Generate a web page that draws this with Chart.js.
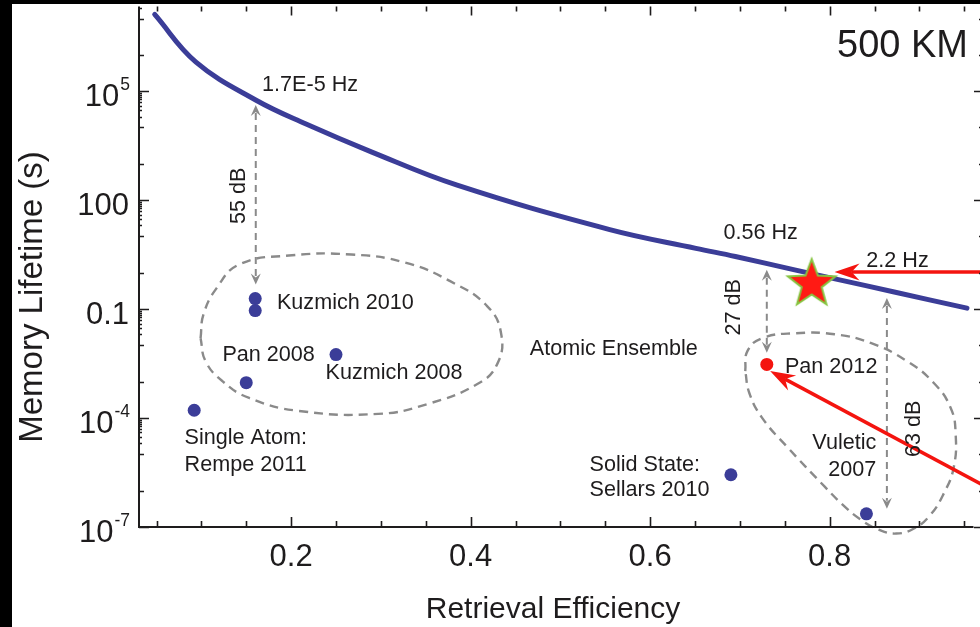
<!DOCTYPE html>
<html>
<head>
<meta charset="utf-8">
<script src="https://cdn.jsdelivr.net/npm/chart.js@4.4.1/dist/chart.umd.min.js"></script>
<style>
  html, body { margin: 0; padding: 0; background: #000; }
</style>
</head>
<body>
<canvas id="c" width="980" height="627"></canvas>
<script>
// 500 km curve (retrieval efficiency vs memory lifetime)
const curveX = [0.048, 0.094, 0.161, 0.216, 0.290, 0.385, 0.555, 0.651, 0.695, 0.761, 0.806, 0.872, 0.953];
const curveY = [1.29e7, 6.3e5, 5.6e4, 1.26e4, 2.1e3, 257, 15.4, 4.7, 2.8, 1.2, 0.68, 0.295, 0.106];

// experiments (blue dots)
const expNames = ["Rempe 2011", "Pan 2008", "Kuzmich 2010", "Kuzmich 2010", "Kuzmich 2008", "Sellars 2010", "Vuletic 2007"];
const expEff = [0.092, 0.150, 0.160, 0.160, 0.250, 0.690, 0.841];
const expLife = [1.64e-4, 9.4e-4, 0.194, 0.091, 5.6e-3, 2.75e-6, 2.3e-7];

// Pan 2012 (red dot) and the star
const panEff = [0.730];
const panLife = [3.0e-3];
const starEff = [0.780];
const starLife = [0.49];

// dashed groups
const blob1X = [0.0991, 0.1024, 0.1168, 0.1422, 0.1975, 0.2671, 0.3268, 0.3777, 0.4186, 0.4341, 0.4296, 0.4075, 0.3522, 0.2970, 0.2085, 0.1532, 0.1234, 0.1046, 0.0991];
const blob1Y = [0.0158, 0.0718, 0.371, 1.69, 2.98, 3.18, 1.91, 0.577, 0.119, 0.0203, 3.05e-3, 8.63e-4, 2.44e-4, 1.30e-4, 1.57e-4, 3.57e-4, 1.04e-3, 3.69e-3, 0.0158];
const blob2X = [0.706, 0.7084, 0.7248, 0.7613, 0.8055, 0.8464, 0.8862, 0.9161, 0.9349, 0.9404, 0.9382, 0.9271, 0.9117, 0.8940, 0.8741, 0.8542, 0.8343, 0.8144, 0.7945, 0.7536, 0.7248, 0.7105, 0.706];
const blob2Y = [1.96e-3, 6.95e-3, 0.0158, 0.0216, 0.0203, 0.0115, 3.69e-3, 9.2e-4, 1.90e-4, 3.67e-5, 4.30e-6, 8.3e-7, 2.07e-7, 9.1e-8, 6.6e-8, 8.55e-8, 1.61e-7, 4.15e-7, 1.29e-6, 1.52e-5, 1.01e-4, 4.9e-4, 1.96e-3];

// axes
const xTickValues = [0.2, 0.4, 0.6, 0.8];
const xTickLabels = ["0.2", "0.4", "0.6", "0.8"];
const yTickValues = [1e-7, 1e-4, 0.1, 100, 1e5];
const yTickLabels = [["10", "-7"], ["10", "-4"], ["0.1", ""], ["100", ""], ["10", "5"]];
const yMajorExp = [-7, -4, -1, 2, 5, 8];

// arrows: dB gaps (grey dashed) and red arrows
const dbArrowX = [0.1606, 0.730, 0.8638];
const dbArrowTop = [4.13e4, 1.21, 0.201];
const dbArrowBottom = [0.477, 6.24e-3, 3.16e-7];
const redArrows = [
	{ from: [0.99, 1.05], to: [0.8055, 1.05] },
	{ from: [0.99, 8e-7], to: [0.7337, 1.96e-3] }
];

// text notes
const notes = [
	{ t: "1.7E-5 Hz", x: 0.1676, y: 1e5 },
	{ t: "55 dB", x: 0.1422, y: 132, rot: true },
	{ t: "Kuzmich 2010", x: 0.1842, y: 0.0984 },
	{ t: "Pan 2008", x: 0.1234, y: 3.69e-3 },
	{ t: "Kuzmich 2008", x: 0.2384, y: 1.19e-3 },
	{ t: "Atomic Ensemble", x: 0.466, y: 5.4e-3 },
	{ t: "Single Atom:", x: 0.0813, y: 1.95e-5 },
	{ t: "Rempe 2011", x: 0.0813, y: 3.55e-6 },
	{ t: "Solid State:", x: 0.5325, y: 3.55e-6 },
	{ t: "Sellars 2010", x: 0.5325, y: 7.3e-7 },
	{ t: "Vuletic", x: 0.852, y: 1.43e-5, align: "right" },
	{ t: "2007", x: 0.852, y: 2.59e-6, align: "right" },
	{ t: "Pan 2012", x: 0.7502, y: 1.73e-3 },
	{ t: "0.56 Hz", x: 0.6817, y: 8.73 },
	{ t: "2.2 Hz", x: 0.8409, y: 1.40 },
	{ t: "27 dB", x: 0.6939, y: 0.112, rot: true },
	{ t: "63 dB", x: 0.894, y: 5.04e-5, rot: true }
];

const FONT = '"Liberation Sans", Arial, sans-serif';
const INK = "#1e1c1d";
const BLUE = "#3b3d98";
const RED = "#f4140f";
const GREY = "#8a8a8a";

function pts(xs, ys) {
	return xs.map((x, i) => ({ x: x, y: ys[i] }));
}

// filled star used as point style
function makeStar(R, r) {
	const c = document.createElement("canvas");
	const s = Math.ceil(R * 2 + 6);
	c.width = s;
	c.height = s;
	const g = c.getContext("2d");
	g.translate(s / 2, s / 2);
	g.beginPath();
	for (let i = 0; i < 10; i++) {
		const rad = i % 2 ? r : R;
		const a = -Math.PI / 2 + (i * Math.PI) / 5;
		g.lineTo(rad * Math.cos(a), rad * Math.sin(a));
	}
	g.closePath();
	g.fillStyle = "#ff1a14";
	g.fill();
	g.lineWidth = 2;
	g.strokeStyle = "#86c440";
	g.stroke();
	return c;
}

function arrowHead(ctx, x1, y1, x2, y2, len, half, notch) {
	const a = Math.atan2(y2 - y1, x2 - x1);
	ctx.save();
	ctx.translate(x2, y2);
	ctx.rotate(a);
	ctx.beginPath();
	ctx.moveTo(0, 0);
	ctx.lineTo(-len, -half);
	ctx.lineTo(-notch, 0);
	ctx.lineTo(-len, half);
	ctx.closePath();
	ctx.fill();
	ctx.restore();
}

const decor = {
	id: "decor",
	beforeDraw(chart) {
		const ctx = chart.ctx;
		ctx.save();
		ctx.fillStyle = "#fff";
		ctx.fillRect(0, 0, chart.width, chart.height);
		ctx.fillStyle = "#000";
		ctx.fillRect(0, 0, 12, chart.height);
		ctx.fillRect(0, 0, chart.width, 4);
		ctx.restore();
	},
	afterDraw(chart) {
		const ctx = chart.ctx;
		const xs = chart.scales.x;
		const ys = chart.scales.y;
		const a = chart.chartArea;
		const px = (v) => xs.getPixelForValue(v);
		const py = (v) => ys.getPixelForValue(v);
		ctx.save();

		// grey dashed dB arrows
		ctx.strokeStyle = GREY;
		ctx.fillStyle = GREY;
		ctx.lineWidth = 2;
		dbArrowX.forEach((x, i) => {
			const X = px(x);
			const t = py(dbArrowTop[i]);
			const b = py(dbArrowBottom[i]);
			ctx.setLineDash([7, 5]);
			ctx.beginPath();
			ctx.moveTo(X, t + 8);
			ctx.lineTo(X, b - 8);
			ctx.stroke();
			ctx.setLineDash([]);
			arrowHead(ctx, X, b, X, t, 11, 5, 7);
			arrowHead(ctx, X, t, X, b, 11, 5, 7);
		});

		// red arrows
		ctx.strokeStyle = RED;
		ctx.fillStyle = RED;
		ctx.lineWidth = 3.5;
		redArrows.forEach((r) => {
			const x1 = px(r.from[0]), y1 = py(r.from[1]);
			const x2 = px(r.to[0]), y2 = py(r.to[1]);
			const ang = Math.atan2(y2 - y1, x2 - x1);
			ctx.beginPath();
			ctx.moveTo(x1, y1);
			ctx.lineTo(x2 - 17 * Math.cos(ang), y2 - 17 * Math.sin(ang));
			ctx.stroke();
			arrowHead(ctx, x1, y1, x2, y2, 25, 8.5, 17);
		});

		// notes
		ctx.fillStyle = INK;
		ctx.font = "21.6px " + FONT;
		notes.forEach((n) => {
			const X = px(n.x), Y = py(n.y);
			if (n.rot) {
				ctx.save();
				ctx.translate(X, Y);
				ctx.rotate(-Math.PI / 2);
				ctx.textAlign = "center";
				ctx.textBaseline = "middle";
				ctx.fillText(n.t, 0, 0);
				ctx.restore();
			} else {
				ctx.textAlign = n.align || "left";
				ctx.textBaseline = "alphabetic";
				ctx.fillText(n.t, X, Y);
			}
		});
		ctx.font = "38px " + FONT;
		ctx.textAlign = "left";
		ctx.fillText("500 KM", 837, 57);

		// axis frame
		ctx.strokeStyle = INK;
		ctx.lineWidth = 2;
		ctx.beginPath();
		ctx.moveTo(a.left, a.top);
		ctx.lineTo(a.left, a.bottom);
		ctx.lineTo(a.right, a.bottom);
		ctx.stroke();

		// x ticks (bottom and top, inward)
		ctx.lineWidth = 1.6;
		ctx.beginPath();
		for (let v = 0.05; v < xs.max; v += 0.05) {
			const X = Math.round(px(v)) + 0.5;
			const major = xTickValues.some((m) => Math.abs(m - v) < 1e-6);
			const len = major ? 10 : 6;
			ctx.moveTo(X, a.bottom);
			ctx.lineTo(X, a.bottom - len);
			ctx.moveTo(X, a.top);
			ctx.lineTo(X, a.top + len - 1);
		}
		ctx.stroke();

		// y ticks (left and right, inward)
		const rightX = 984;
		ctx.beginPath();
		yMajorExp.forEach((e) => {
			const ticks = [[Math.pow(10, e), 10], [Math.pow(10, e - 1), 5], [Math.pow(10, e - 2), 5]];
			for (let k = 2; k <= 9; k++) ticks.push([k * Math.pow(10, e - 1), 3]);
			ticks.forEach(([v, len]) => {
				if (v < ys.min * 0.999 || v > ys.max) return;
				const Y = Math.round(py(v)) + 0.5;
				ctx.moveTo(a.left, Y);
				ctx.lineTo(a.left + len, Y);
				ctx.moveTo(rightX, Y);
				ctx.lineTo(rightX - len, Y);
			});
		});
		ctx.stroke();

		// tick labels
		ctx.fillStyle = INK;
		ctx.font = "31px " + FONT;
		ctx.textAlign = "center";
		ctx.textBaseline = "alphabetic";
		xTickValues.forEach((v, i) => ctx.fillText(xTickLabels[i], px(v), 566));

		ctx.textAlign = "left";
		yTickValues.forEach((v, i) => {
			const [base, sup] = yTickLabels[i];
			ctx.font = "31px " + FONT;
			const wb = ctx.measureText(base).width;
			ctx.font = "17.5px " + FONT;
			const ws = sup ? ctx.measureText(sup).width : 0;
			const x0 = 129 - wb - ws;
			const Y = py(v) + 15;
			ctx.font = "31px " + FONT;
			ctx.fillText(base, x0, Y);
			if (sup) {
				ctx.font = "17.5px " + FONT;
				ctx.fillText(sup, x0 + wb + 1, Y - 16);
			}
		});

		// axis titles
		ctx.font = "30px " + FONT;
		ctx.textAlign = "center";
		ctx.fillText("Retrieval Efficiency", 553, 618);
		ctx.save();
		ctx.translate(42, 297);
		ctx.rotate(-Math.PI / 2);
		ctx.font = "33px " + FONT;
		ctx.fillText("Memory Lifetime (s)", 0, 0);
		ctx.restore();

		ctx.restore();
	}
};

new Chart(document.getElementById("c"), {
	type: "scatter",
	data: {
		datasets: [
			{
				label: "Star",
				data: pts(starEff, starLife),
				pointStyle: makeStar(25, 10.5),
				order: 0
			},
			{
				label: "Pan 2012",
				data: pts(panEff, panLife),
				backgroundColor: RED,
				borderWidth: 0,
				pointRadius: 6.5,
				order: 1
			},
			{
				label: "Experiments",
				data: pts(expEff, expLife),
				backgroundColor: BLUE,
				borderWidth: 0,
				pointRadius: 6.5,
				order: 1
			},
			{
				label: "500 km",
				data: pts(curveX, curveY),
				showLine: true,
				borderColor: BLUE,
				borderWidth: 5,
				borderCapStyle: "round",
				tension: 0.4,
				pointRadius: 0,
				order: 2
			},
			{
				label: "Atomic ensemble group",
				data: pts(blob1X, blob1Y),
				showLine: true,
				borderColor: GREY,
				borderWidth: 2.4,
				borderDash: [9, 6],
				tension: 0.45,
				pointRadius: 0,
				order: 3
			},
			{
				label: "Cavity group",
				data: pts(blob2X, blob2Y),
				showLine: true,
				borderColor: GREY,
				borderWidth: 2.4,
				borderDash: [9, 6],
				tension: 0.45,
				pointRadius: 0,
				clip: false,
				order: 3
			}
		]
	},
	options: {
		responsive: false,
		animation: false,
		layout: { padding: { top: 4, left: 0, right: 0, bottom: 0 } },
		plugins: {
			legend: { display: false },
			tooltip: { enabled: false }
		},
		scales: {
			x: {
				type: "linear",
				min: 0.0305,
				max: 0.9603,
				ticks: { display: false },
				grid: { display: false },
				border: { display: false },
				afterFit: (s) => { s.height = 100; }
			},
			y: {
				type: "logarithmic",
				min: 1e-7,
				max: 2.14e7,
				ticks: { display: false },
				grid: { display: false },
				border: { display: false },
				afterFit: (s) => { s.width = 139; }
			}
		}
	},
	plugins: [decor]
});
</script>
</body>
</html>
